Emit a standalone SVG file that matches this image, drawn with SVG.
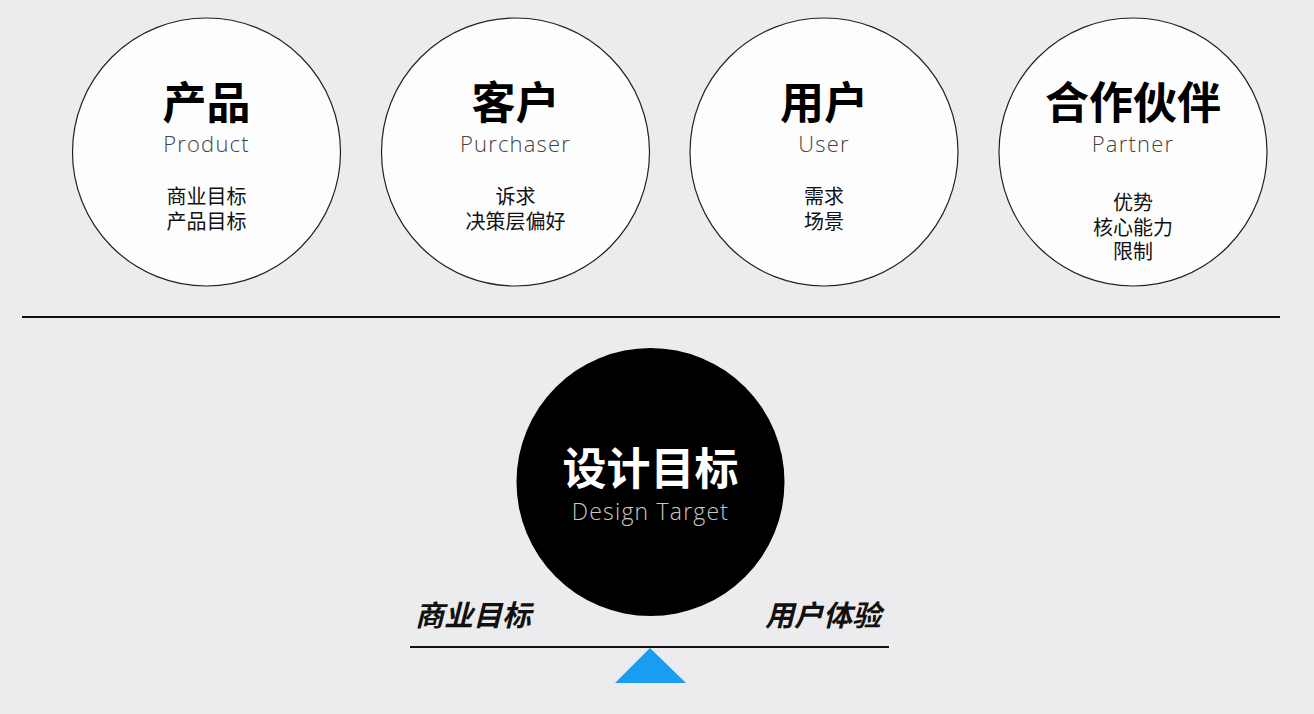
<svg xmlns="http://www.w3.org/2000/svg" width="1314" height="714" viewBox="0 0 1314 714">
<style>
.bg{fill:#ececee}
.c{fill:#fdfdfd;stroke:#222;stroke-width:1.2}
.t{font-family:"Noto Sans CJK SC","Noto Sans",sans-serif;font-weight:700;font-size:44px;fill:#000;text-anchor:middle;dominant-baseline:central}
.e{font-family:"Open Sans","Noto Sans",sans-serif;font-weight:300;font-size:22px;letter-spacing:1.2px;fill:#444;text-anchor:middle}
.s{font-family:"Noto Sans CJK SC",sans-serif;font-weight:400;font-size:20px;fill:#111;text-anchor:middle;dominant-baseline:central}
.ln{stroke:#111;stroke-width:2}
.w{font-family:"Noto Sans CJK SC",sans-serif;font-weight:700;font-size:29px;fill:#111;font-style:italic;dominant-baseline:central}
</style>
<rect class="bg" x="0" y="0" width="1314" height="714"/>
<g id="product">
<circle class="c" cx="206.5" cy="152" r="134"/>
<text class="t" x="206.5" y="100">产品</text>
<text class="e" x="206.5" y="152">Product</text>
<text class="s" x="206.5" y="195">商业目标</text>
<text class="s" x="206.5" y="220">产品目标</text>
</g>
<g id="purchaser">
<circle class="c" cx="515.5" cy="152" r="134"/>
<text class="t" x="515.5" y="100">客户</text>
<text class="e" x="515.5" y="152">Purchaser</text>
<text class="s" x="515.5" y="195">诉求</text>
<text class="s" x="515.5" y="220">决策层偏好</text>
</g>
<g id="user">
<circle class="c" cx="824" cy="152" r="134"/>
<text class="t" x="824" y="100">用户</text>
<text class="e" x="824" y="152">User</text>
<text class="s" x="824" y="195">需求</text>
<text class="s" x="824" y="220">场景</text>
</g>
<g id="partner">
<circle class="c" cx="1133" cy="152" r="134"/>
<text class="t" x="1133" y="100">合作伙伴</text>
<text class="e" x="1133" y="152">Partner</text>
<text class="s" x="1133" y="201">优势</text>
<text class="s" x="1133" y="226">核心能力</text>
<text class="s" x="1133" y="250">限制</text>
</g>
<g id="connectors">
<line class="ln" x1="22" y1="317" x2="1280" y2="317"/>
<line class="ln" x1="410" y1="647" x2="889" y2="647"/>
</g>
<g id="design-target">
<circle cx="650.5" cy="482" r="134" fill="#000"/>
<text class="t" x="650.5" y="466" style="fill:#fff">设计目标</text>
<text class="e" x="650.5" y="520" style="fill:#c8c8c8;font-size:23px">Design Target</text>
</g>
<g id="business">
<text class="w" x="415" y="613">商业目标</text>
</g>
<g id="ux">
<text class="w" x="765" y="613">用户体验</text>
</g>
<g id="fulcrum">
<polygon points="650,648 615,683 686,683" fill="#1a9cf0"/>
</g>
</svg>
